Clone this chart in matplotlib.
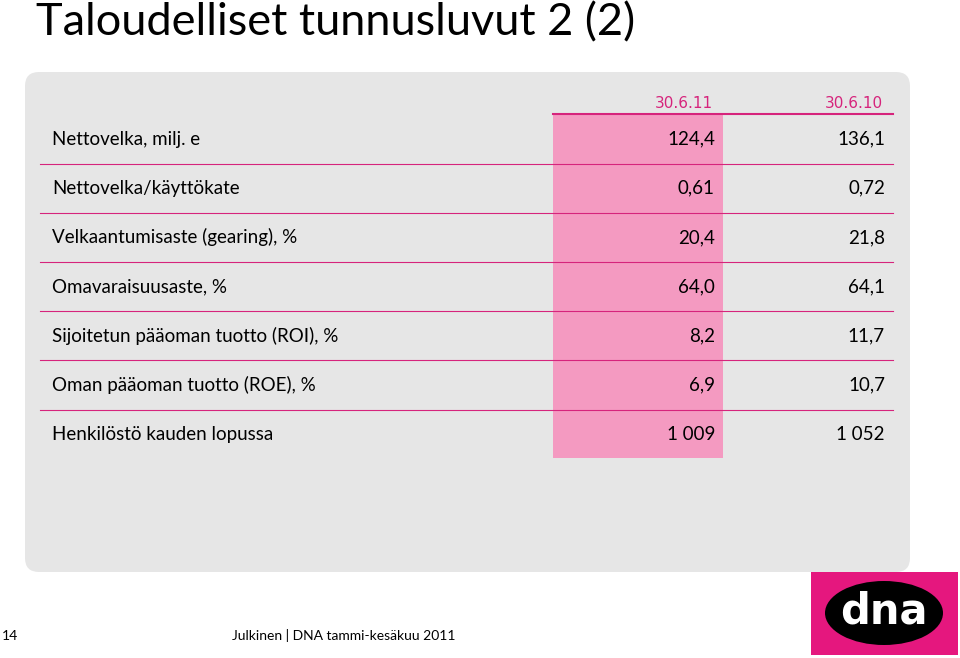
import matplotlib
matplotlib.use("Agg")
import matplotlib.pyplot as plt
from matplotlib.patches import FancyBboxPatch, Rectangle, Ellipse

title = "Taloudelliset tunnusluvut 2 (2)"
columns = ["30.6.11", "30.6.10"]
row_labels = ["Nettovelka, milj. e", "Nettovelka/käyttökate", "Velkaantumisaste (gearing), %",
              "Omavaraisuusaste, %", "Sijoitetun pääoman tuotto (ROI), %",
              "Oman pääoman tuotto (ROE), %", "Henkilöstö kauden lopussa"]
values_2011 = ["124,4", "0,61", "20,4", "64,0", "8,2", "6,9", "1 009"]
values_2010 = ["136,1", "0,72", "21,8", "64,1", "11,7", "10,7", "1 052"]
footer = "Julkinen | DNA tammi-kesäkuu 2011"
page = "14"

W, H = 960, 658
fig = plt.figure(figsize=(9.6, 6.58), dpi=100)
ax = fig.add_axes([0, 0, 1, 1])
ax.set_xlim(0, W); ax.set_ylim(H, 0); ax.axis("off")
font = "Lato"
MAG = "#d6247c"

ax.text(36, 23, title, fontsize=32.5, family=font, va="center", ha="left", color="black")
ax.add_patch(FancyBboxPatch((25 + 14, 72 + 14), 885 - 28, 500 - 28,
                            boxstyle="round,pad=14", fc="#e6e6e6", ec="none"))
ax.add_patch(Rectangle((553, 115), 170, 343, fc="#f49ac1", ec="none"))
ax.plot([553, 893], [114, 114], color=MAG, lw=1.5)
ax.text(713, 103, columns[0], fontsize=11, family="DejaVu Sans", ha="right", va="center", color=MAG)
ax.text(883, 103, columns[1], fontsize=11, family="DejaVu Sans", ha="right", va="center", color=MAG)

y0, dy = 139, 49.2
for i, (lab, a, b) in enumerate(zip(row_labels, values_2011, values_2010)):
    y = y0 + i * dy
    ax.text(52, y, lab, fontsize=13.5, family=font, va="center", ha="left")
    ax.text(715, y, a, fontsize=13.5, family=font, va="center", ha="right")
    ax.text(885, y, b, fontsize=13.5, family=font, va="center", ha="right")
    if i < len(row_labels) - 1:
        ax.plot([40, 893], [y + 24.5, y + 24.5], color=MAG, lw=0.8)

ax.text(2, 636, page, fontsize=10, family=font, va="center", ha="left")
ax.text(232, 636, footer, fontsize=10, family=font, va="center", ha="left")
ax.add_patch(Rectangle((811, 572), 147, 83, fc="#e5177e", ec="none"))
ax.add_patch(Ellipse((884, 613), 118, 64, fc="black", ec="none"))
ax.text(884, 612, "dna", fontsize=30, fontweight="bold", family="DejaVu Sans",
        color="white", ha="center", va="center")

fig.savefig("out.png", dpi=100)
